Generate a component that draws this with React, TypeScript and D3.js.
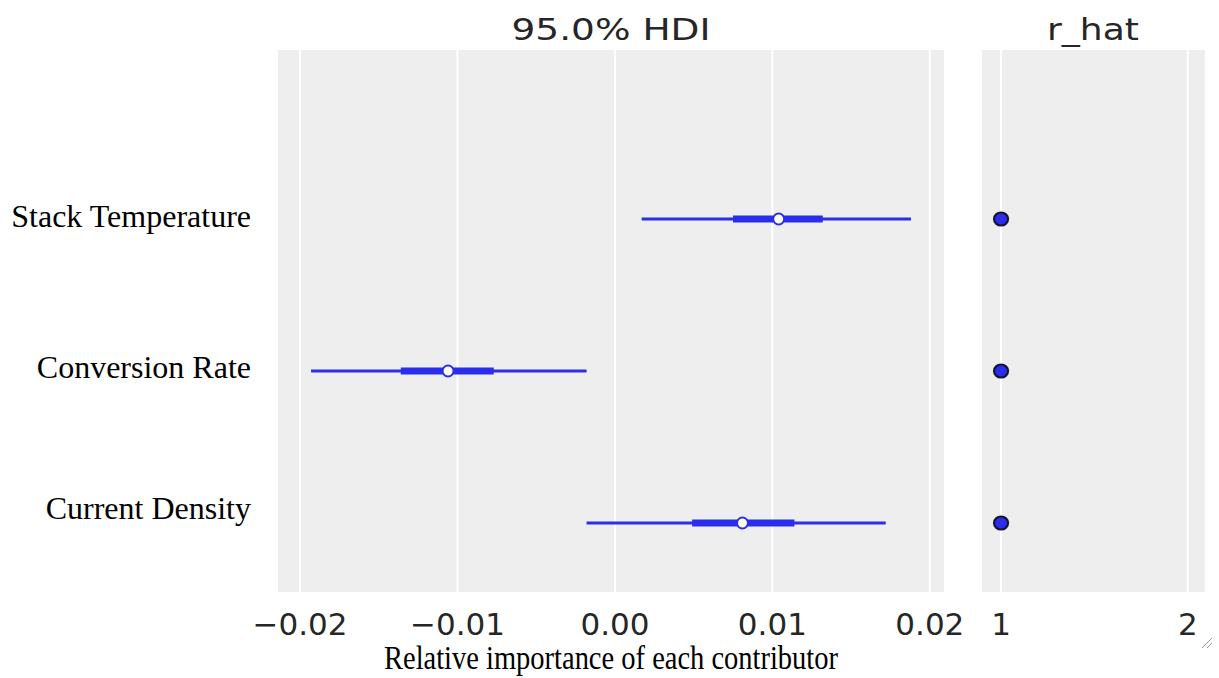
import * as d3 from "d3";
import { useEffect, useRef } from "react";

// forest plot data
const labels = ["Stack Temperature", "Conversion Rate", "Current Density"];
const hdiLow = [0.0017, -0.0193, -0.0018];
const hdiHigh = [0.0188, -0.0018, 0.0172];
const iqrLow = [0.0075, -0.0136, 0.0049];
const iqrHigh = [0.0132, -0.0077, 0.0114];
const medians = [0.0104, -0.0106, 0.0081];
const rhat = [1.0, 1.0, 1.0];
const xTicks = [-0.02, -0.01, 0.0, 0.01, 0.02];
const rTicks = [1, 2];

const App = () => {
  const ref = useRef(null);

  useEffect(() => {
    const svg = d3.select(ref.current);
    svg.selectAll("*").remove();

    const top = 50, bottom = 592;
    const blue = "#2a2eec";

    // main panel scale
    const x = d3.scaleLinear().domain([-0.0214, 0.0209]).range([278, 944]);
    // r_hat panel scale
    const xr = d3.scaleLinear().domain([0.898, 2.092]).range([982, 1205]);
    const y = d3.scalePoint().domain(labels).range([219, 523]);

    // backgrounds
    svg.append("rect")
      .attr("x", x.range()[0]).attr("y", top)
      .attr("width", x.range()[1] - x.range()[0]).attr("height", bottom - top)
      .attr("fill", "#eeeeee");
    svg.append("rect")
      .attr("x", xr.range()[0]).attr("y", top)
      .attr("width", xr.range()[1] - xr.range()[0]).attr("height", bottom - top)
      .attr("fill", "#eeeeee");

    // grid lines
    svg.selectAll(".gx").data(xTicks).join("line")
      .attr("x1", d => x(d)).attr("x2", d => x(d))
      .attr("y1", top).attr("y2", bottom)
      .attr("stroke", "white").attr("stroke-width", 2);
    svg.selectAll(".gr").data(rTicks).join("line")
      .attr("x1", d => xr(d)).attr("x2", d => xr(d))
      .attr("y1", top).attr("y2", bottom)
      .attr("stroke", "white").attr("stroke-width", 2);

    // tick labels
    const fmt = d3.format(".2f");
    svg.selectAll(".tx").data(xTicks).join("text")
      .attr("x", d => x(d)).attr("y", 635)
      .attr("text-anchor", "middle")
      .style("font-family", "DejaVu Sans").style("font-size", "31px")
      .attr("fill", "#262626")
      .text(d => (d < 0 ? "\u2212" : "") + fmt(Math.abs(d)));
    svg.selectAll(".tr").data(rTicks).join("text")
      .attr("x", d => xr(d)).attr("y", 635)
      .attr("text-anchor", "middle")
      .style("font-family", "DejaVu Sans").style("font-size", "31px")
      .attr("fill", "#262626")
      .text(d => d);

    // titles
    svg.append("text")
      .attr("x", 611).attr("y", 40)
      .attr("text-anchor", "middle")
      .attr("textLength", 199).attr("lengthAdjust", "spacingAndGlyphs")
      .style("font-family", "DejaVu Sans").style("font-size", "31px")
      .attr("fill", "#262626")
      .text("95.0% HDI");
    svg.append("text")
      .attr("x", 1093).attr("y", 40)
      .attr("text-anchor", "middle")
      .attr("textLength", 92).attr("lengthAdjust", "spacingAndGlyphs")
      .style("font-family", "DejaVu Sans").style("font-size", "31px")
      .attr("fill", "#262626")
      .text("r_hat");

    // row labels (set in Times)
    const labelY = [227, 378, 519];
    svg.selectAll(".yl").data(labels).join("text")
      .attr("x", 251).attr("y", (d, i) => labelY[i])
      .attr("text-anchor", "end")
      .style("font-family", "Liberation Serif").style("font-size", "32px")
      .attr("fill", "black")
      .text(d => d);

    svg.append("text")
      .attr("x", 611).attr("y", 669)
      .attr("text-anchor", "middle")
      .attr("textLength", 454).attr("lengthAdjust", "spacingAndGlyphs")
      .style("font-family", "Liberation Serif").style("font-size", "33px")
      .attr("fill", "black")
      .text("Relative importance of each contributor");

    // HDI lines
    svg.selectAll(".hdi").data(labels).join("line")
      .attr("x1", (d, i) => x(hdiLow[i])).attr("x2", (d, i) => x(hdiHigh[i]))
      .attr("y1", d => y(d)).attr("y2", d => y(d))
      .attr("stroke", blue).attr("stroke-width", 3);
    svg.selectAll(".iqr").data(labels).join("line")
      .attr("x1", (d, i) => x(iqrLow[i])).attr("x2", (d, i) => x(iqrHigh[i]))
      .attr("y1", d => y(d)).attr("y2", d => y(d))
      .attr("stroke", blue).attr("stroke-width", 7);
    svg.selectAll(".med").data(labels).join("circle")
      .attr("cx", (d, i) => x(medians[i])).attr("cy", d => y(d))
      .attr("r", 5.5)
      .attr("fill", "white").attr("stroke", blue).attr("stroke-width", 2);

    // r_hat dots
    svg.selectAll(".rh").data(labels).join("ellipse")
      .attr("cx", (d, i) => xr(rhat[i])).attr("cy", d => y(d))
      .attr("rx", 7).attr("ry", 6.5)
      .attr("fill", blue).attr("stroke", "#15153a").attr("stroke-width", 2.2);

    // resize-handle marks in the corner
    svg.append("path")
      .attr("d", "M1202,648 L1212,638 M1207,648 L1212,643")
      .attr("stroke", "#999").attr("stroke-width", 1);
  }, []);

  return (
    <svg ref={ref} width={1219} height={678}
      style={{ position: "absolute", left: 0, top: 0, background: "white" }} />
  );
};

export default App;
